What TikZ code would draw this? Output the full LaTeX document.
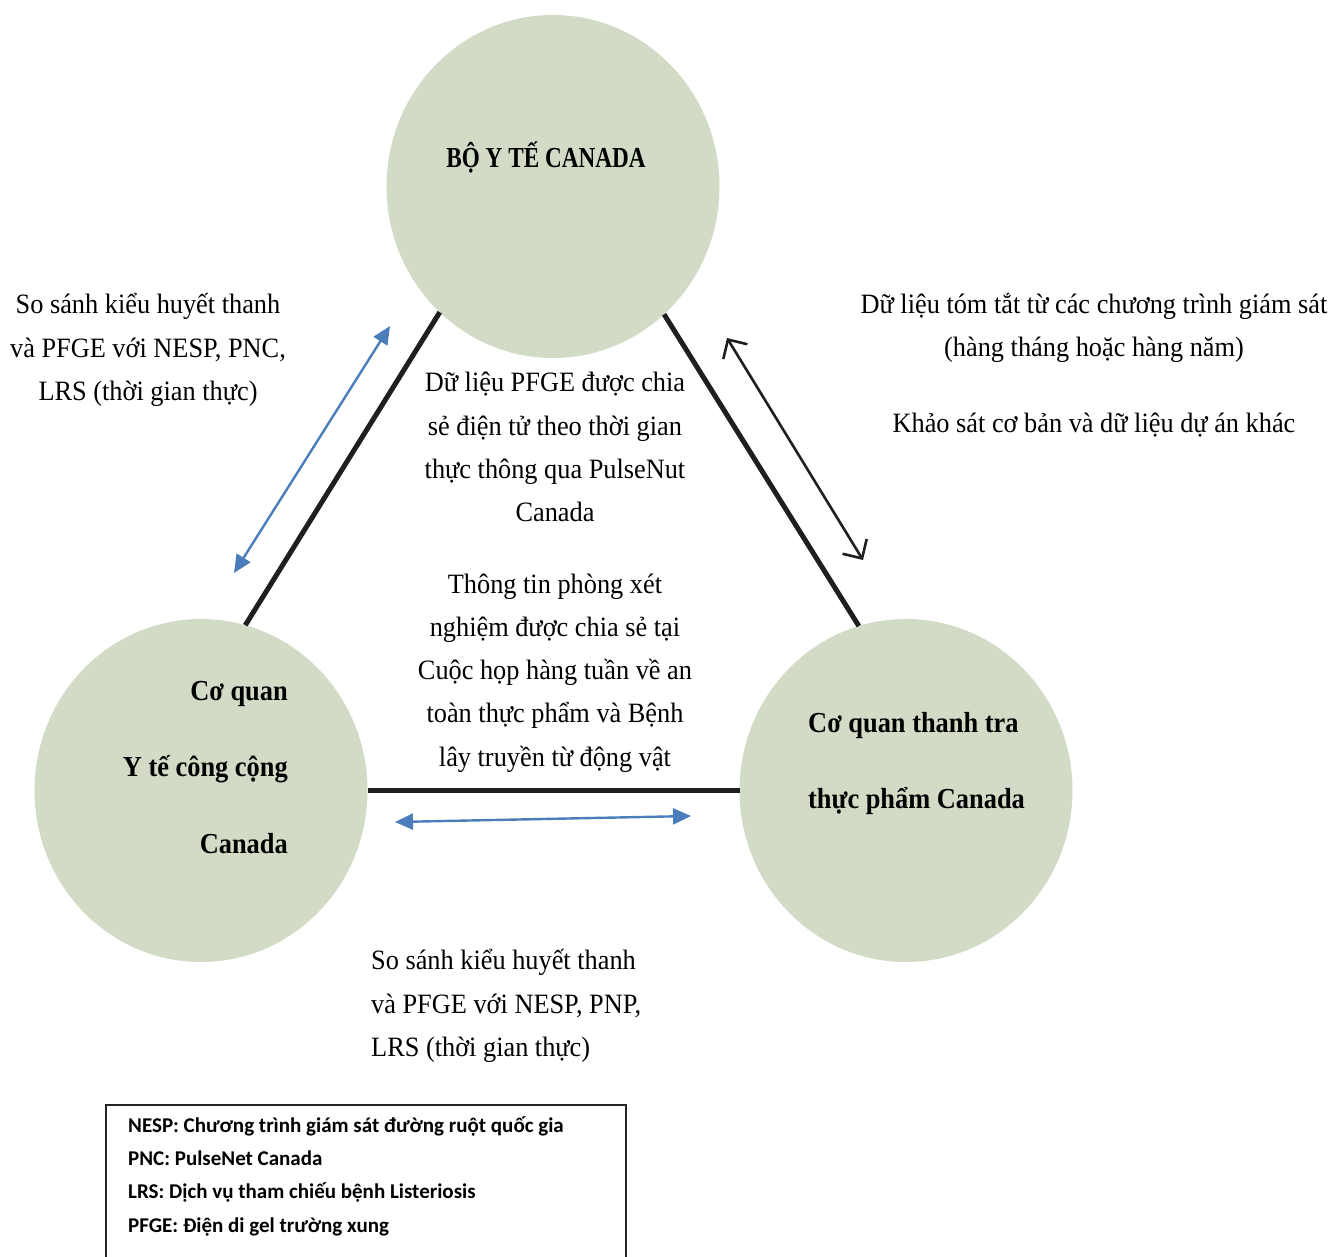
\documentclass[tikz,border=0pt]{standalone}
\usepackage{fontspec}
\setmainfont[FakeStretch=0.94,BoldFeatures={FakeStretch=0.91}]{Liberation Serif}
\newfontfamily\titlefont[FakeStretch=0.8]{Liberation Serif}
\newfontfamily\legendfont{Carlito}
\usetikzlibrary{arrows.meta,shapes.geometric}
\definecolor{circfill}{RGB}{210,219,198}
\definecolor{arrowblue}{RGB}{74,126,187}
\begin{document}
\begin{tikzpicture}[x=1pt,y=-1pt,
  agency/.style={ellipse,fill=circfill,minimum width=333pt,minimum height=343pt,inner sep=0pt,outer sep=0pt},
  txt/.style={font=\fontsize{28}{43.2}\selectfont,align=center,inner sep=0pt},
  btxt/.style={font=\fontsize{29}{43}\selectfont\bfseries,inner sep=0pt},
  link/.style={line width=5pt,draw=black!88},
  blk/.style={line width=2.6pt,draw=black!88,{Straight Barb[angle=90:20pt]}-{Straight Barb[angle=90:20pt]}},
  blu/.style={line width=2.4pt,draw=arrowblue,{Triangle[length=18pt,width=16pt]}-{Triangle[length=18pt,width=16pt]}}]
\useasboundingbox (0,0) rectangle (1341,1256);
% circles
\node[agency] (hc) at (553,186.5) {};
\node[agency] (pc) at (201,790.5) {};
\node[agency] (fc) at (906,790.5) {};
% connecting lines
\draw[link] (hc.228) -- (pc.75);
\draw[link] (hc.311) -- (fc.106);
\draw[link] (pc.0) -- (fc.180);
% arrows
\coordinate (ba1) at (727,338);
\coordinate (ba2) at (863,560);
\draw[blk] (ba1) -- (ba2);
\coordinate (la1) at (390,326);
\coordinate (la2) at (234,573);
\draw[blu] (la1) -- (la2);
\coordinate (ua1) at (395,822);
\coordinate (ua2) at (691,816);
\draw[blu] (ua1) -- (ua2);
% circle labels
\node[font=\titlefont\fontsize{29}{43}\selectfont\bfseries,inner sep=0pt] (hct) at (546,157) {BỘ Y TẾ CANADA};
\node[btxt,anchor=east] (pc1) at (288,694) {Cơ quan};
\node[btxt,anchor=east] (pc2) at (288,769) {Y tế công cộng};
\node[btxt,anchor=east] (pc3) at (288,844) {Canada};
\node[btxt,anchor=west] (fc1) at (808,726) {Cơ quan thanh tra};
\node[btxt,anchor=west] (fc2) at (808,801) {thực phẩm Canada};
% annotations
\node[txt] (lt) at (148,350) {So sánh kiểu huyết thanh\\và PFGE với NESP, PNC,\\LRS (thời gian thực)};
\node[txt] (rt1) at (1094,328) {Dữ liệu tóm tắt từ các chương trình giám sát\\(hàng tháng hoặc hàng năm)};
\node[txt] (rt2) at (1094,425) {Khảo sát cơ bản và dữ liệu dự án khác};
\node[txt] (ct1) at (555,447) {Dữ liệu PFGE được chia\\sẻ điện tử theo thời gian\\thực thông qua PulseNut\\Canada};
\node[txt] (ct2) at (555,673) {Thông tin phòng xét\\nghiệm được chia sẻ tại\\Cuộc họp hàng tuần về an\\toàn thực phẩm và Bệnh\\lây truyền từ động vật};
\node[txt,align=left,anchor=west] (bt) at (371,1006) {So sánh kiểu huyết thanh\\và PFGE với NESP, PNP,\\LRS (thời gian thực)};
% legend
\draw[line width=2pt,draw=black!85] (106,1262) -- (106,1105) -- (626,1105) -- (626,1262);
\node[font=\legendfont\bfseries\fontsize{21}{33.3}\selectfont,align=left,anchor=west,inner sep=0pt] (leg) at (128,1176) {NESP: Chương trình giám sát đường ruột quốc gia\\PNC: PulseNet Canada\\LRS: Dịch vụ tham chiếu bệnh Listeriosis\\PFGE: Điện di gel trường xung};
\end{tikzpicture}
\end{document}
